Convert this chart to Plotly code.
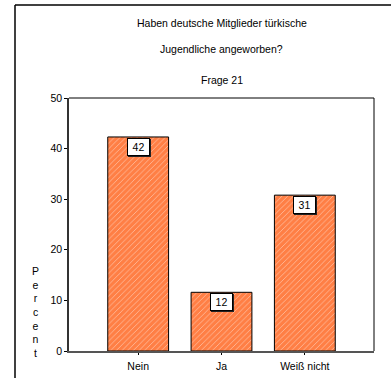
import plotly.graph_objects as go

categories = ["Nein", "Ja", "Weiß nicht"]
percent = [42.3, 11.6, 30.8]
labels = ["42", "12", "31"]
y_ticks = [0, 10, 20, 30, 40, 50]
title_lines = ["Haben deutsche Mitglieder türkische", "Jugendliche angeworben?", "Frage 21"]

FONT = "Liberation Sans, Arial, sans-serif"
FS = 10.5
W, H = 391, 378
L, R, T, B = 69, 17, 98, 27
pw, ph = W - L - R, H - T - B

def px_x(x):
    return (x - L) / pw

def px_y(y):
    return (H - B - y) / ph

fig = go.Figure()
fig.add_trace(go.Bar(
    x=categories, y=percent, width=0.73,
    marker=dict(color="#FF7F45", line=dict(color="black", width=1),
                pattern=dict(shape="/", fgcolor="white", bgcolor="#FF7F45", size=4, solidity=0.2)),
    hoverinfo="skip",
))

annotations = []
for c, v, t in zip(categories, percent, labels):
    # drop shadow
    annotations.append(dict(x=c, y=v, xref="x", yref="y", text=t, showarrow=False,
                            yanchor="top", yshift=-2, xshift=1, width=17, height=12,
                            bgcolor="#222222", bordercolor="#222222",
                            borderwidth=1, borderpad=2,
                            font=dict(family=FONT, size=FS, color="#222222")))
    annotations.append(dict(x=c, y=v, xref="x", yref="y", text=t, showarrow=False,
                            yanchor="top", yshift=-1, width=17, height=12,
                            bgcolor="white", bordercolor="black",
                            borderwidth=1, borderpad=2,
                            font=dict(family=FONT, size=FS, color="black")))

title_y = [23, 49, 80]
for line, yy in zip(title_lines, title_y):
    annotations.append(dict(x=0.5, y=px_y(yy), xref="paper", yref="paper", text=line,
                            showarrow=False, xanchor="center", yanchor="middle",
                            font=dict(family=FONT, size=FS, color="black")))

annotations.append(dict(x=px_x(35), y=px_y(312), xref="paper", yref="paper",
                        text="<br>".join("Percent"), showarrow=False,
                        xanchor="center", yanchor="middle", align="center",
                        font=dict(family=FONT, size=FS, color="black")))

shapes = [
    dict(type="line", xref="paper", yref="paper", x0=px_x(15), x1=px_x(395), y0=px_y(5), y1=px_y(5),
         line=dict(color="black", width=1.5)),
    dict(type="line", xref="paper", yref="paper", x0=px_x(15), x1=px_x(15), y0=px_y(5), y1=px_y(382),
         line=dict(color="black", width=1.5)),
    dict(type="line", xref="paper", yref="paper", x0=0, x1=1, y0=1, y1=1,
         line=dict(color="black", width=1)),
    dict(type="line", xref="paper", yref="paper", x0=1, x1=1, y0=0, y1=1,
         line=dict(color="black", width=1)),
]

fig.update_layout(
    width=W, height=H, margin=dict(l=L, r=R, t=T, b=B, autoexpand=False),
    paper_bgcolor="white", plot_bgcolor="white", showlegend=False,
    font=dict(family=FONT, size=FS, color="black"),
    annotations=annotations, shapes=shapes,
    xaxis=dict(range=[-0.83, 2.83], showgrid=False, zeroline=False, showline=True,
               linecolor="#555555", linewidth=1.5, ticks="outside", ticklen=2, tickcolor="black",
               ticklabelstandoff=3, automargin=False,
               tickfont=dict(family=FONT, size=FS, color="black"), fixedrange=True),
    yaxis=dict(range=[0, 50], tickvals=y_ticks, showgrid=False, zeroline=False, showline=True,
               linecolor="#333333", linewidth=1.5, ticks="outside", ticklen=3, tickcolor="black",
               automargin=False,
               tickfont=dict(family=FONT, size=FS, color="black"), fixedrange=True),
)

fig.write_html("out.html", config={"displayModeBar": False},
               post_script="document.body.style.margin='0px';document.body.style.overflow='hidden';")
